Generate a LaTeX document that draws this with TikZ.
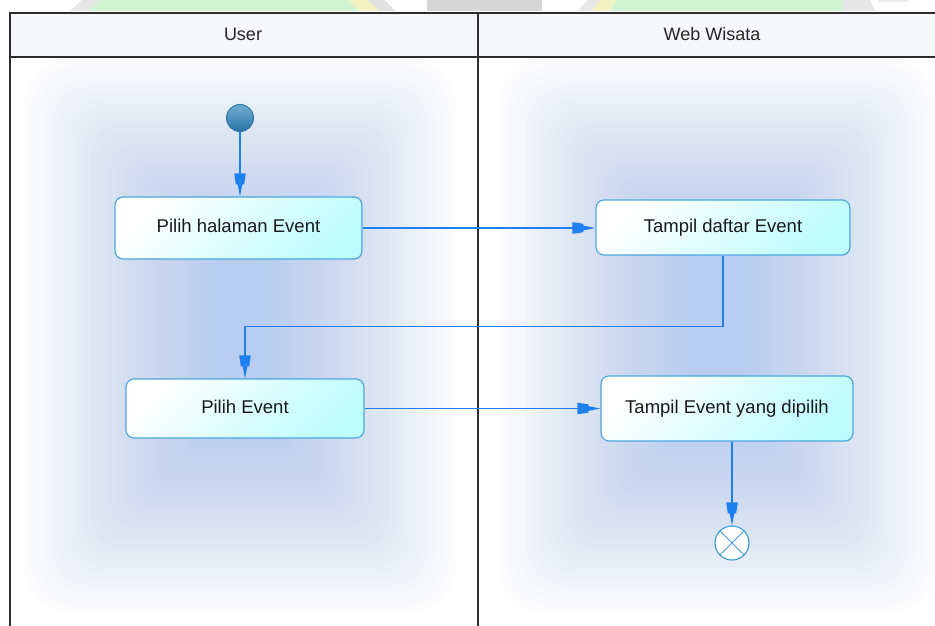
\documentclass[tikz,border=0pt]{standalone}
\usepackage{fontspec}
\setmainfont{Liberation Sans}
\usetikzlibrary{arrows.meta}

\definecolor{lineblue}{RGB}{30,128,238}
\definecolor{boxborder}{RGB}{78,166,220}
\definecolor{boxcyan}{RGB}{190,252,255}
\definecolor{glowc}{RGB}{150,180,240}
\definecolor{framec}{RGB}{45,45,45}
\definecolor{headfill}{RGB}{246,247,250}
\definecolor{wmgreen}{RGB}{210,243,210}
\definecolor{wmyellow}{RGB}{242,242,192}
\definecolor{wmgray}{RGB}{214,214,214}
\definecolor{startlight}{RGB}{112,172,208}
\definecolor{startdark}{RGB}{42,118,165}
\definecolor{startedge}{RGB}{44,124,172}
\definecolor{endline}{RGB}{70,160,215}

% UML flow arrow head: wide trapezoid followed by a narrow point
\pgfdeclarearrow{
  name = flowhead,
  setup code = {
    \pgfarrowssettipend{0pt}
    \pgfarrowssetlineend{-12pt}
    \pgfarrowssetbackend{-23pt}
    \pgfarrowshullpoint{0pt}{0pt}
    \pgfarrowshullpoint{-23pt}{5.8pt}
    \pgfarrowshullpoint{-23pt}{-5.8pt}
  },
  drawing code = {
    \pgfpathmoveto{\pgfpoint{0pt}{0pt}}
    \pgfpathlineto{\pgfpoint{-12pt}{2.4pt}}
    \pgfpathlineto{\pgfpoint{-12pt}{4.2pt}}
    \pgfpathlineto{\pgfpoint{-23pt}{5.8pt}}
    \pgfpathlineto{\pgfpoint{-23pt}{-5.8pt}}
    \pgfpathlineto{\pgfpoint{-12pt}{-4.2pt}}
    \pgfpathlineto{\pgfpoint{-12pt}{-2.4pt}}
    \pgfpathclose
    \pgfusepathqfill
  }
}

\tikzset{
  action/.style={draw=boxborder, line width=1.2pt, rounded corners=8pt,
    top color=white, bottom color=boxcyan, shading angle=45,
    font=\fontsize{18.5}{22}\selectfont, text=black!90, inner sep=0pt,
    text height=13.5pt, text depth=4pt},
  flow/.style={draw=lineblue, line width=1.1pt, -flowhead},
  lane/.style={draw=framec, line width=1.3pt},
  headlabel/.style={font=\fontsize{18}{22}\selectfont, text=black!85},
  startnode/.style={circle, minimum size=27pt, inner sep=0pt, draw=startedge,
    line width=1pt, top color=startlight, bottom color=startdark},
  endnode/.style={circle, minimum size=34pt, inner sep=0pt, draw=endline,
    line width=1.2pt, fill=white},
  glow/.style={fill=glowc, fill opacity=0.028, draw=none}
}

\begin{document}
\begin{tikzpicture}[x=1pt, y=-1pt]
\useasboundingbox (0,0) rectangle (935,626);
\fill[white] (0,0) rectangle (935,626);

% faint watermark strip along the top edge
\fill[wmgray!60] (70,11) -- (82,0) -- (100,0) -- (88,11) -- cycle;
\fill[wmgreen] (88,11) -- (100,0) -- (348,0) -- (360,11) -- cycle;
\fill[wmyellow] (348,0) -- (368,0) -- (380,11) -- (360,11) -- cycle;
\fill[wmgray!70] (368,0) -- (385,0) -- (395,11) -- (380,11) -- cycle;
\fill[wmgray] (427,0) rectangle (542,11);
\fill[wmgray!60] (578,11) -- (588,0) -- (600,0) -- (592,11) -- cycle;
\fill[wmyellow] (592,11) -- (600,0) -- (616,0) -- (610,11) -- cycle;
\fill[wmgreen] (610,11) -- (616,0) -- (842,0) -- (842,11) -- cycle;
\fill[wmgray!60] (842,0) -- (870,0) -- (875,11) -- (842,11) -- cycle;
\fill[wmgray!50] (878,0) rectangle (908,2);

% soft blue glow in both lanes: stacked translucent rounded rectangles
\foreach \k in {0,...,29} {
  \pgfmathsetmacro{\rad}{45-1.4*\k}
  \fill[glow, rounded corners=\rad pt] (25+\k*6.5, 60+\k*6.5) rectangle (455-\k*6.5, 612-\k*6.5);
  \fill[glow, rounded corners=\rad pt] (500+\k*6.5, 60+\k*6.5) rectangle (935-\k*6.5, 612-\k*6.5);
}

% swimlane headers
\fill[headfill] (10,13) rectangle (935,57);
\draw[lane] (10,626) -- (10,13) -- (935,13);
\draw[lane] (10,57) -- (935,57);
\draw[lane] (478,13) -- (478,626);
\node[headlabel] (hUser) at (243,34) {User};
\node[headlabel] (hWeb) at (712,34) {Web Wisata};

% activity nodes
\node[startnode] (start) at (240,118) {};
\node[action, minimum width=247pt, minimum height=62pt] (b1) at (238.5,228) {Pilih halaman Event};
\node[action, minimum width=254pt, minimum height=55pt] (b2) at (723,227.5) {Tampil daftar Event};
\node[action, minimum width=238pt, minimum height=59pt] (b3) at (245,408.5) {Pilih Event};
\node[action, minimum width=252pt, minimum height=65pt] (b4) at (727,408.5) {Tampil Event yang dipilih};
\node[endnode] (finish) at (732,543) {};
\draw[endline, line width=1pt] (finish.45) -- (finish.225);
\draw[endline, line width=1pt] (finish.135) -- (finish.315);

% control flow
\draw[flow] (start.south) -- (start.south |- b1.north);
\draw[flow] (b1.east) -- (b1.east -| b2.west);
\draw[flow] (b2.south) -- ++(0,71) -| (b3.north);
\draw[flow] (b3.east) -- (b3.east -| b4.west);
\draw[flow] (b4.south -| finish.north) -- (finish.north);
\end{tikzpicture}
\end{document}
